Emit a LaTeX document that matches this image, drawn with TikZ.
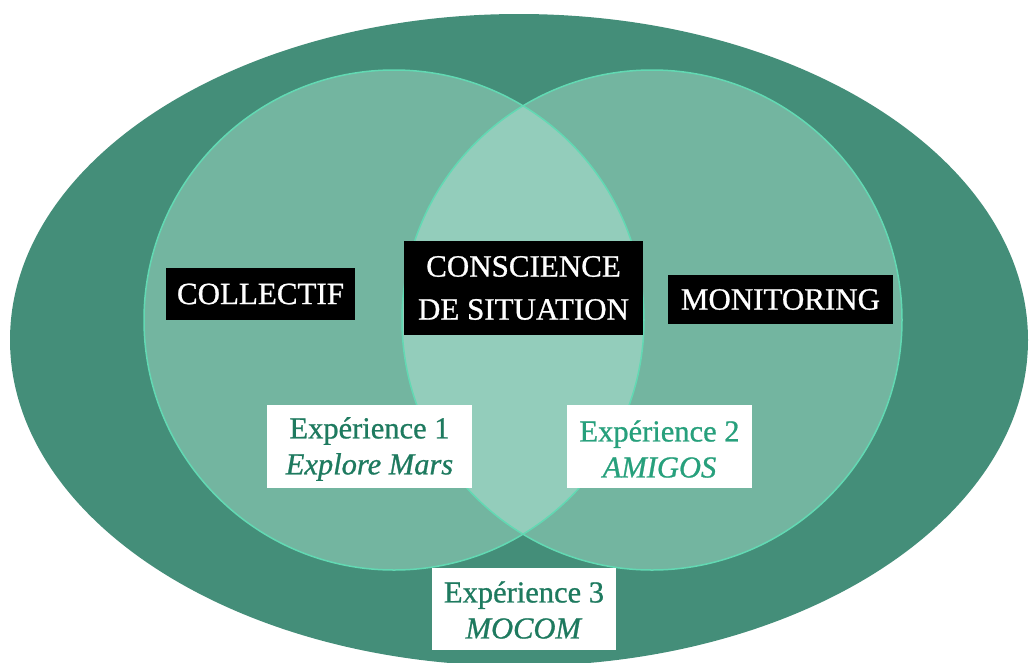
\documentclass[tikz,border=0pt]{standalone}
\usepackage{fontspec}
\setmainfont[FakeBold=0.8,BoldFont={Liberation Serif},BoldItalicFont={Liberation Serif Italic}]{Liberation Serif}
\definecolor{outerg}{HTML}{448E79}
\definecolor{circg}{HTML}{73B5A0}
\definecolor{overg}{HTML}{93CDBB}
\definecolor{lineg}{HTML}{62D9B3}
\definecolor{txtdark}{HTML}{1E7A5F}
\definecolor{txtlight}{HTML}{27A07C}
\tikzset{
  blk/.style={fill=black, text=white, inner sep=0pt, align=center, font=\fontsize{31}{43}\selectfont\bfseries},
  wbox/.style={fill=white, inner sep=0pt, align=center, font=\fontsize{30.5}{36}\selectfont\bfseries},
  ring/.style={draw=lineg, line width=1.5pt}
}
\begin{document}
\begin{tikzpicture}[x=1pt,y=-1pt]
\useasboundingbox (0,0) rectangle (1029,662);
\clip (0,0) rectangle (1029,662);
\fill[outerg] (519,340) ellipse [x radius=509, y radius=326];
\coordinate (lc) at (394,320);
\coordinate (rc) at (652,320);
\fill[circg] (lc) circle [radius=250];
\fill[circg] (rc) circle [radius=250];
\begin{scope}
  \clip (lc) circle [radius=250];
  \fill[overg] (rc) circle [radius=250];
\end{scope}
\draw[ring] (lc) circle [radius=250];
\draw[ring] (rc) circle [radius=250];

\node[blk, minimum width=189pt, minimum height=52pt] (collectif) at (260.5,294) {COLLECTIF};
\node[blk, minimum width=239pt, minimum height=94pt] (conscience) at (523.5,288) {CONSCIENCE\\DE SITUATION};
\node[blk, minimum width=225pt, minimum height=49pt] (monitoring) at (780.5,299.5) {MONITORING};

\node[wbox, fill=white, minimum width=205pt, minimum height=83pt] (exp1) at (369.5,446.5) {};
\node[wbox, text=txtdark, anchor=center] (exp1t) at (369.5,449) {Expérience 1\\\textit{Explore Mars}};
\node[wbox, fill=white, minimum width=185pt, minimum height=83pt] (exp2) at (659.5,446.5) {};
\node[wbox, text=txtlight] (exp2t) at (659.5,449) {Expérience 2\\\textit{AMIGOS}};
\node[wbox, fill=white, minimum width=184pt, minimum height=82pt] (exp3) at (524,609) {};
\node[wbox, text=txtdark] (exp3t) at (524,610) {Expérience 3\\\textit{MOCOM}};
\end{tikzpicture}
\end{document}
